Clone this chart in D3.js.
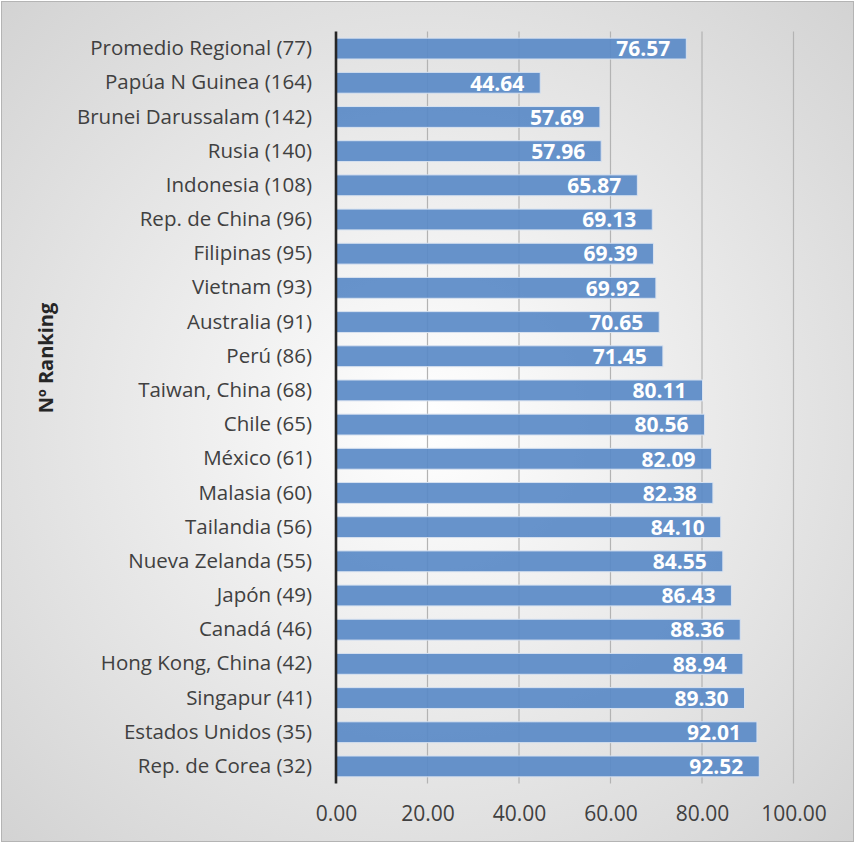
<!DOCTYPE html>
<html>
<head>
<meta charset="utf-8">
<script src="https://cdnjs.cloudflare.com/ajax/libs/d3/7.8.5/d3.min.js"></script>
<style>
  body { margin: 0; background: #fff; }
  text { font-family: "Open Sans", sans-serif; }
</style>
</head>
<body>
<svg id="chart"></svg>
<script>
const categories = [
  "Promedio Regional (77)", "Papúa N Guinea (164)", "Brunei Darussalam (142)", "Rusia (140)",
  "Indonesia (108)", "Rep. de China (96)", "Filipinas (95)", "Vietnam (93)", "Australia (91)",
  "Perú (86)", "Taiwan, China (68)", "Chile (65)", "México (61)", "Malasia (60)",
  "Tailandia (56)", "Nueva Zelanda (55)", "Japón (49)", "Canadá (46)", "Hong Kong, China (42)",
  "Singapur (41)", "Estados Unidos (35)", "Rep. de Corea (32)"
];
const values = [
  76.57, 44.64, 57.69, 57.96, 65.87, 69.13, 69.39, 69.92, 70.65, 71.45, 80.11,
  80.56, 82.09, 82.38, 84.10, 84.55, 86.43, 88.36, 88.94, 89.30, 92.01, 92.52
];
const xTicks = [0, 20, 40, 60, 80, 100];
const yTitle = "Nº Ranking";

const W = 856, H = 844;
const margin = { top: 31.5, right: 62.5, bottom: 60.5, left: 336 };
const width = W - margin.left - margin.right,
    height = H - margin.top - margin.bottom;

const svg = d3.select("#chart").attr("width", W).attr("height", H);

// background gradient + border
const defs = svg.append("defs");
const grad = defs.append("radialGradient").attr("id", "bg")
    .attr("cx", "50%").attr("cy", "50%").attr("r", "72%");
grad.append("stop").attr("offset", "0%").attr("stop-color", "#ffffff");
grad.append("stop").attr("offset", "100%").attr("stop-color", "#d2d2d2");

svg.append("rect")
    .attr("x", 1.5).attr("y", 1.5).attr("width", W - 4).attr("height", H - 4)
    .attr("fill", "url(#bg)").attr("stroke", "#b4b4b4").attr("stroke-width", 1);

const g = svg.append("g")
    .attr("transform", "translate(" + margin.left + "," + margin.top + ")");

const x = d3.scaleLinear().domain([0, 100]).range([0, width]);
const y = d3.scaleBand().domain(categories).range([0, height]).paddingInner(0.39).paddingOuter(0.195);

// gridlines
g.selectAll(".grid")
    .data(xTicks.slice(1))
    .enter().append("line")
    .attr("class", "grid")
    .attr("x1", d => x(d)).attr("x2", d => x(d))
    .attr("y1", 0).attr("y2", height)
    .attr("stroke", "#b3b3b3").attr("stroke-width", 1.2);

// bars
g.selectAll(".bar")
    .data(values)
    .enter().append("rect")
    .attr("class", "bar")
    .attr("x", 0)
    .attr("y", (d, i) => y(categories[i]))
    .attr("width", d => x(d))
    .attr("height", y.bandwidth())
    .attr("fill", "#5a8ac7")
    .attr("fill-opacity", 0.92)
    .attr("stroke", "#d8e2f0")
    .attr("stroke-width", 1);

// value labels
g.selectAll(".val")
    .data(values)
    .enter().append("text")
    .attr("class", "val")
    .attr("x", d => x(d) - 16)
    .attr("y", (d, i) => y(categories[i]) + y.bandwidth() / 2)
    .attr("dy", "0.37em")
    .attr("text-anchor", "end")
    .attr("fill", "#ffffff")
    .style("font-weight", "bold")
    .style("font-size", "21px")
    .text(d => d.toFixed(2));

// y axis (category labels)
const yAxis = g.append("g").call(d3.axisLeft(y).tickSize(0).tickPadding(24));
yAxis.select(".domain").remove();
yAxis.selectAll("text")
    .style("font-size", "20.5px")
    .attr("fill", "#404040");

// axis line at zero
g.append("line")
    .attr("x1", 0).attr("x2", 0).attr("y1", 0).attr("y2", height)
    .attr("stroke", "#262626").attr("stroke-width", 2.6);

// x axis labels
const xAxis = g.append("g")
    .attr("transform", "translate(0," + height + ")")
    .call(d3.axisBottom(x).tickValues(xTicks).tickSize(0).tickPadding(23).tickFormat(d => d.toFixed(2)));
xAxis.select(".domain").remove();
xAxis.selectAll("text")
    .style("font-size", "21px")
    .attr("fill", "#404040");

// y title
svg.append("text")
    .attr("transform", "translate(52.5,358) rotate(-90)")
    .attr("text-anchor", "middle")
    .style("font-weight", "bold")
    .style("font-size", "20px")
    .attr("fill", "#262626")
    .text(yTitle);
</script>
</body>
</html>
